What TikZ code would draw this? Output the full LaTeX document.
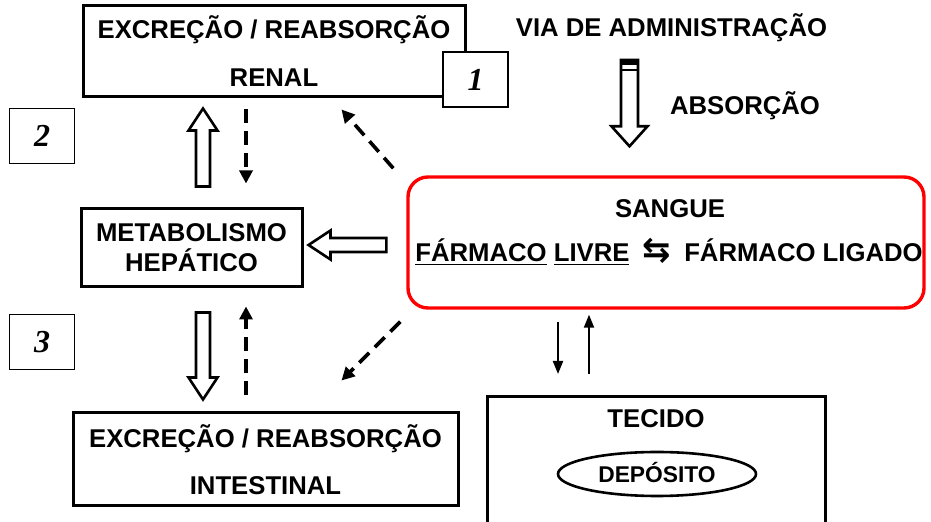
\documentclass[tikz,border=0pt]{standalone}
\usepackage{fontspec}
\setmainfont{Liberation Sans}
\newfontfamily\numfont{Liberation Serif}
\newfontfamily\symfont{DejaVu Sans}
\usetikzlibrary{arrows.meta,positioning,calc,shapes.geometric}

\tikzset{
 txt/.style={font=\fontsize{12.85}{15}\selectfont\bfseries, inner sep=0pt, align=center},
 organ/.style={draw, line width=1.5pt, txt},
 numbox/.style={draw, fill=white, line width=0.85pt, minimum width=32.5pt, minimum height=27.5pt, inner sep=0pt, font=\numfont\bfseries\itshape\fontsize{16}{16}\selectfont},
 dasharrow/.style={line width=1.8pt, dash pattern=on 7pt off 4pt, -{Triangle[length=6.5pt,width=6.5pt]}},
 thinarrow/.style={line width=1pt, -{Triangle[length=6.5pt,width=5pt]}},
 hollow/.style n args={3}{draw, fill=white, line width=1.3pt, line join=miter, to path={
   let \p1=(\tikztostart), \p2=(\tikztotarget),
       \n{ang}={atan2(\y2-\y1,\x2-\x1)},
       \n{len}={veclen(\x2-\x1,\y2-\y1)-#3} in
   ($(\p1)+(\n{ang}+90:#1)$) -- ($(\p1)+(\n{ang}:\n{len})+(\n{ang}+90:#1)$)
   -- ($(\p1)+(\n{ang}:\n{len})+(\n{ang}+90:#2)$) -- (\p2)
   -- ($(\p1)+(\n{ang}:\n{len})+(\n{ang}-90:#2)$) -- ($(\p1)+(\n{ang}:\n{len})+(\n{ang}-90:#1)$)
   -- ($(\p1)+(\n{ang}-90:#1)$) -- cycle}}
}

\begin{document}
\begin{tikzpicture}[x=0.5pt, y=-0.5pt]
 \clip (0,0) rectangle (931,522);

 % organs
 \node[organ, minimum width=191pt, minimum height=45.5pt, font=\fontsize{12.85}{24}\selectfont\bfseries] (renal) at (274,51.5) {EXCREÇÃO / REABSORÇÃO\\RENAL};
 \node[organ, minimum width=110.5pt, minimum height=39pt] (metab) at (191.5,248) {METABOLISMO\\HEPÁTICO};
 \node[organ, minimum width=192.5pt, minimum height=46.5pt, font=\fontsize{12.85}{23.5}\selectfont\bfseries] (intest) at (265.5,459.5) {EXCREÇÃO / REABSORÇÃO\\INTESTINAL};

 % blood
 \node[draw=red, line width=1.7pt, rounded corners=10pt, minimum width=258pt, minimum height=65.5pt] (sangue) at (666,242.5) {};
 \node[txt, anchor=base] (sangtit) at (670,217.2) {SANGUE};
 \node[txt, anchor=base] (ligacao) at (669,261.2) {\underline{FÁRMACO} \underline{LIVRE}\hspace{3pt} {\symfont\fontsize{17}{17}\selectfont ⇆}\hspace{3pt} FÁRMACO LIGADO};

 % tissue
 \node[draw, line width=1.5pt, minimum width=169pt, minimum height=80pt, anchor=north] (tecido) at (656,395) {};
 \node[txt, anchor=base] (tecidotxt) at (656,427.2) {TECIDO};
 \node[draw, ellipse, line width=1.3pt, minimum width=99pt, minimum height=22pt, inner sep=0pt, text height=8.2pt, text depth=0pt, font=\fontsize{11.4}{13}\selectfont\bfseries] (deposito) at (657,474) {DEPÓSITO};

 % administration
 \node[txt, anchor=base] (via) at (671.5,36.2) {VIA DE ADMINISTRAÇÃO};
 \node[txt, anchor=base] (absorcao) at (745,114.2) {ABSORÇÃO};
 \coordinate (abstop) at (629.5,60);

 \draw[hollow={4.25pt}{9pt}{10pt}] (abstop) to ($(sangue.north)+(-36.5,-29)$);
 \fill ($(abstop)+(-9,0)$) rectangle ($(abstop)+(9,5)$);
 \draw[line width=1pt] ($(abstop)+(-9,10)$) -- ($(abstop)+(9,10)$);

 % hollow arrows
 \draw[hollow={3.5pt}{7.25pt}{11pt}] ($(metab.north)+(11.5,-21)$) to ($(renal.south)+(-71,10)$);
 \draw[hollow={3.5pt}{7.25pt}{11pt}] ($(sangue.west)+(-20,2.5)$) to ($(metab.east)+(5,-3)$);
 \draw[hollow={3.5pt}{7.25pt}{11pt}] ($(metab.south)+(11.5,24)$) to ($(intest.north)+(-62.5,-12)$);

 % dashed arrows
 \draw[dasharrow] ($(renal.south)+(-28,11)$) -- ($(metab.north)+(54.5,-24)$);
 \draw[dasharrow] ($(intest.north)+(-19.5,-16)$) -- ($(metab.south)+(54.5,18)$);
 \draw[dasharrow] ($(sangue.north west)+(-13,-7)$) -- ($(renal.south east)+(-125,11)$);
 \draw[dasharrow] ($(sangue.south west)+(-6,12)$) -- ($(intest.north east)+(-118,-31)$);

 % blood <-> tissue
 \draw[thinarrow] ($(sangue.south)+(-108,12)$) -- ($(tecido.north)+(-98,-21)$);
 \draw[thinarrow] ($(tecido.north)+(-67,-21)$) -- ($(sangue.south)+(-77,5)$);

 % numbers
 \node[numbox] (n1) at (475.5,79.5) {1};
 \node[numbox] (n2) at (42,136) {2};
 \node[numbox] (n3) at (42,342) {3};
\end{tikzpicture}
\end{document}
